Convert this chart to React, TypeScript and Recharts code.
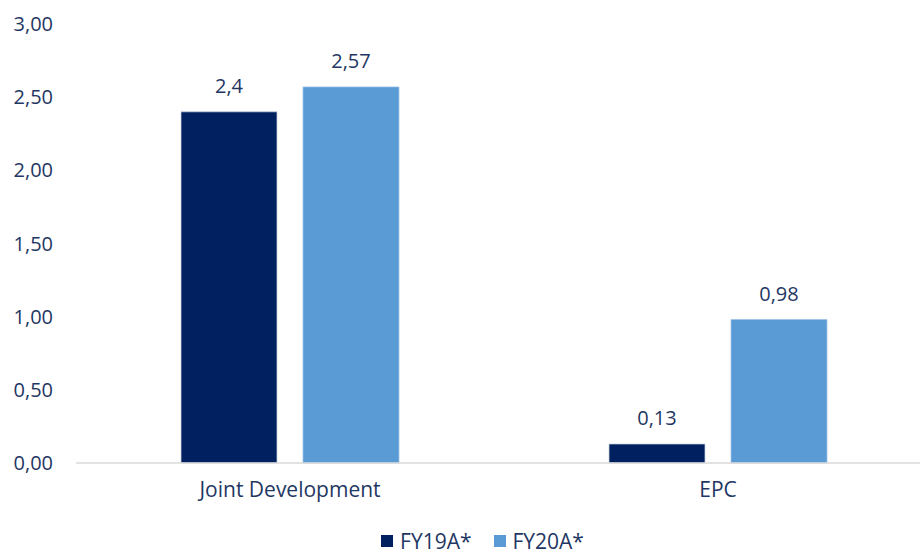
import React from "react";
import {
  BarChart,
  Bar,
  XAxis,
  YAxis,
  Legend,
  LabelList,
} from "recharts";

const categories = ["Joint Development", "EPC"];
const fy19 = [2.4, 0.13];
const fy20 = [2.57, 0.98];
const yTicks = [0, 0.5, 1, 1.5, 2, 2.5, 3];

const COLOR_DARK = "#002060";
const COLOR_LIGHT = "#5b9bd5";
const TEXT = "#1f3763";
const FONT = "'Open Sans', sans-serif";

const data = categories.map((name, i) => ({
  name,
  fy19: fy19[i],
  fy20: fy20[i],
}));

const fmtTick = (v: number) => v.toFixed(2).replace(".", ",");
const fmtLabel = (v: any) => String(v).replace(".", ",");

function LegendContent() {
  const items = [
    { label: "FY19A*", color: COLOR_DARK },
    { label: "FY20A*", color: COLOR_LIGHT },
  ];
  return (
    <div
      style={{
        display: "flex",
        justifyContent: "center",
        alignItems: "center",
        gap: 22,
        fontFamily: FONT,
        fontSize: 21,
        color: TEXT,
        height: 22,
        lineHeight: "22px",
      }}
    >
      {items.map((it) => (
        <div key={it.label} style={{ display: "flex", alignItems: "center", gap: 7 }}>
          <span style={{ width: 12, height: 12, background: it.color, display: "inline-block" }} />
          <span>{it.label}</span>
        </div>
      ))}
    </div>
  );
}

export default function App() {
  return (
    <div
      style={{
        position: "absolute",
        top: 0,
        left: 0,
        width: 920,
        height: 556,
        overflow: "hidden",
        background: "#fff",
      }}
    >
      <BarChart
        width={965}
        height={556}
        data={data}
        margin={{ top: 24, right: 33, bottom: 0, left: 0 }}
        barCategoryGap={105}
        barGap={26}
      >
        <XAxis
          dataKey="name"
          height={71}
          axisLine={{ stroke: "#d9d9d9", strokeWidth: 1.5 }}
          tickLine={false}
          tickSize={0}
          tickMargin={19}
          tick={{ fill: TEXT, fontSize: 21, fontFamily: FONT }}
        />
        <YAxis
          width={76}
          domain={[0, 3]}
          ticks={yTicks}
          tickFormatter={fmtTick}
          axisLine={false}
          tickLine={false}
          tickSize={0}
          tickMargin={23}
          tick={{ fill: TEXT, fontSize: 20, fontFamily: FONT }}
        />
        <Legend
          verticalAlign="bottom"
          content={<LegendContent />}
          wrapperStyle={{ left: 0, width: 965, height: 22, bottom: 4 }}
        />
        <Bar dataKey="fy19" name="FY19A*" fill={COLOR_DARK} stroke="#c9d3e0" strokeWidth={0.75} isAnimationActive={false}>
          <LabelList
            dataKey="fy19"
            position="top"
            offset={19}
            formatter={fmtLabel}
            style={{ fill: TEXT, fontSize: 20, fontFamily: FONT }}
          />
        </Bar>
        <Bar dataKey="fy20" name="FY20A*" fill={COLOR_LIGHT} stroke="#9fc3e7" strokeWidth={0.75} isAnimationActive={false}>
          <LabelList
            dataKey="fy20"
            position="top"
            offset={19}
            formatter={fmtLabel}
            style={{ fill: TEXT, fontSize: 20, fontFamily: FONT }}
          />
        </Bar>
      </BarChart>
    </div>
  );
}
